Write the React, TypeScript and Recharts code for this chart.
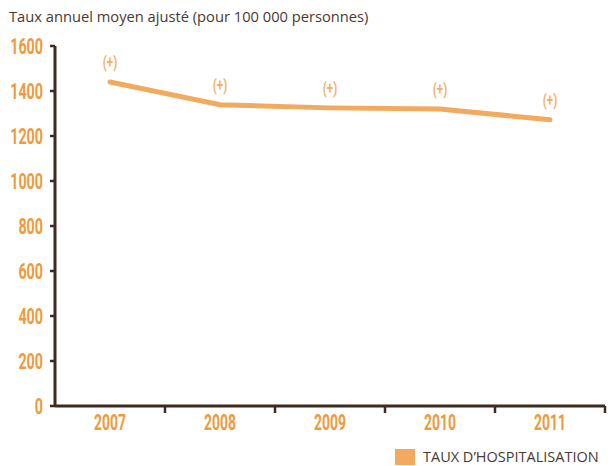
import React from "react";
import { LineChart, Line, XAxis, YAxis, LabelList } from "recharts";

const years = ["2007", "2008", "2009", "2010", "2011"];
const taux = [1440, 1339, 1325, 1320, 1272];
const marks = ["(+)", "(+)", "(+)", "(+)", "(+)"];
const yTicks = [0, 200, 400, 600, 800, 1000, 1200, 1400, 1600];

const data = years.map((year, i) => ({ year, taux: taux[i], mark: marks[i] }));

const W = 608;
const H = 466;
const margin = { top: 46, right: 3, bottom: 59, left: 0 };
const yAxisWidth = 55;
const plotWidth = W - margin.left - margin.right - yAxisWidth;
const step = plotWidth / years.length;

const brown = "#3d2b1f";
const orange = "#ef9a3c";
const lineOrange = "#f2aa5e";
const numFont = "Roboto, sans-serif";

// narrow bold numerals, squeezed to look like the condensed face of the original
function NarrowText({ x, y, anchor, value, size, fill, perChar }: any) {
  const s = String(value);
  return (
    <text
      x={x}
      y={y}
      textAnchor={anchor}
      fill={fill}
      fontFamily={numFont}
      fontWeight={700}
      fontSize={size}
      textLength={s.length * perChar}
      lengthAdjust="spacingAndGlyphs"
    >
      {s}
    </text>
  );
}

function XTick({ x, y, payload }: any) {
  return (
    <g>
      <line x1={x + step / 2} y1={y} x2={x + step / 2} y2={y + 7} stroke={brown} strokeWidth={2.5} />
      <NarrowText x={x} y={y + 24} anchor="middle" value={payload.value} size={22} fill={orange} perChar={8} />
    </g>
  );
}

function YTick({ x, y, payload }: any) {
  return <NarrowText x={x} y={y + 8} anchor="end" value={payload.value} size={22} fill={orange} perChar={8.2} />;
}

function MarkLabel({ x, y, value }: any) {
  return <NarrowText x={x} y={y - 14} anchor="middle" value={value} size={17} fill="#f2b266" perChar={4.8} />;
}

export default function App() {
  return (
    <div style={{ position: "absolute", left: 0, top: 0, width: W, height: H, background: "#fff" }}>
      <div
        style={{
          position: "absolute",
          left: 9,
          top: 6,
          fontFamily: "'Open Sans', sans-serif",
          fontSize: 14.7,
          color: "#4a3a30",
          whiteSpace: "nowrap",
        }}
      >
        Taux annuel moyen ajusté (pour 100 000 personnes)
      </div>
      <LineChart width={W} height={H} data={data} margin={margin}>
        <XAxis
          dataKey="year"
          padding={{ left: step / 2, right: step / 2 }}
          axisLine={{ stroke: brown, strokeWidth: 3 }}
          tickLine={false}
          tickSize={0}
          tickMargin={0}
          height={1}
          tick={<XTick />}
          interval={0}
        />
        <YAxis
          domain={[0, 1600]}
          ticks={yTicks}
          width={yAxisWidth}
          axisLine={{ stroke: brown, strokeWidth: 3 }}
          tickLine={{ stroke: brown, strokeWidth: 2.5 }}
          tickSize={5}
          tickMargin={7}
          interval={0}
          tick={<YTick />}
        />
        <Line
          type="linear"
          dataKey="taux"
          stroke={lineOrange}
          strokeWidth={5}
          strokeLinecap="round"
          dot={false}
          activeDot={false}
          isAnimationActive={false}
        >
          <LabelList dataKey="mark" content={<MarkLabel />} />
        </Line>
      </LineChart>
      <div
        style={{
          position: "absolute",
          left: 395,
          top: 449,
          display: "flex",
          alignItems: "center",
          whiteSpace: "nowrap",
        }}
      >
        <span style={{ width: 20, height: 16, background: lineOrange, display: "inline-block", marginRight: 8 }} />
        <span style={{ fontFamily: "'Open Sans', sans-serif", fontSize: 14.5, color: "#4a3a30", lineHeight: "16px" }}>
          TAUX D’HOSPITALISATION
        </span>
      </div>
    </div>
  );
}
